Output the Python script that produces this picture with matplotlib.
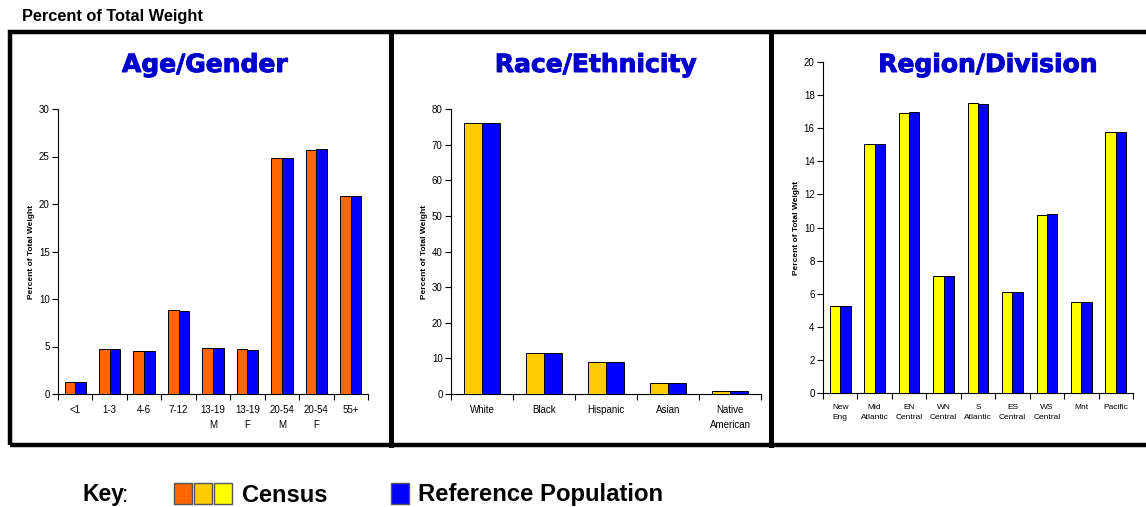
import matplotlib.pyplot as plt
import matplotlib.patheffects as pe
from matplotlib.patches import Rectangle
from matplotlib.lines import Line2D
import numpy as np

plt.rcParams['font.family'] = ['Liberation Sans', 'DejaVu Sans']

W, H = 1146, 507

age_labels = ['<1', '1-3', '4-6', '7-12', '13-19\nM', '13-19\nF', '20-54\nM', '20-54\nF', '55+']
age_census = [1.3, 4.7, 4.5, 8.83, 4.85, 4.7, 24.8, 25.7, 20.85]
age_ref = [1.3, 4.7, 4.5, 8.73, 4.85, 4.6, 24.8, 25.8, 20.85]

race_labels = ['White', 'Black', 'Hispanic', 'Asian', 'Native\nAmerican']
race_census = [76.0, 11.6, 8.9, 3.0, 0.75]
race_ref = [76.0, 11.6, 8.9, 3.0, 0.75]

region_labels = ['New\nEng', 'Mid\nAtlantic', 'EN\nCentral', 'WN\nCentral', 'S\nAtlantic',
                 'ES\nCentral', 'WS\nCentral', 'Mnt', 'Pacific']
region_census = [5.28, 15.05, 16.92, 7.05, 17.5, 6.08, 10.76, 5.52, 15.77]
region_ref = [5.28, 15.05, 16.98, 7.05, 17.44, 6.08, 10.84, 5.52, 15.77]

ORANGE = '#FF6600'
GOLD = '#FFCC00'
YELLOW = '#FFFF00'
BLUE = '#0000FF'
TITLE_BLUE = '#0000CC'

fig = plt.figure(figsize=(W / 100, H / 100), dpi=100)


def px_axes(left, right, top, bottom):
    return fig.add_axes([left / W, (H - bottom) / H, (right - left) / W, (bottom - top) / H])


def panel(box, labels, census, ref, color, ymax, ystep, title, title_xy, xfs, bw):
    ax = px_axes(*box)
    n = len(labels)
    x = np.arange(n) + 0.5
    ax.bar(x - bw / 2, census, bw, color=color, edgecolor='black', linewidth=0.7, zorder=3)
    ax.bar(x + bw / 2, ref, bw, color=BLUE, edgecolor='black', linewidth=0.7, zorder=3)
    ax.set_xlim(0, n)
    ax.set_ylim(0, ymax)
    ax.set_yticks(np.arange(0, ymax + 0.1, ystep))
    ax.tick_params(axis='y', direction='out', length=4, width=0.8, labelsize=7, pad=2)
    ax.set_xticks(x)
    ax.set_xticklabels(labels, fontsize=xfs, linespacing=1.6, va='top')
    ax.set_xticks(np.arange(n + 1), minor=True)
    ax.tick_params(axis='x', which='major', length=0, pad=8)
    ax.tick_params(axis='x', which='minor', direction='out', length=4, width=0.8)
    for s in ['top', 'right']:
        ax.spines[s].set_visible(False)
    for s in ['left', 'bottom']:
        ax.spines[s].set_linewidth(0.8)
    ax.set_ylabel('Percent of Total Weight', fontsize=6, fontweight='bold', labelpad=3)
    fig.text(title_xy[0] / W, 1 - title_xy[1] / H, title, ha='center', va='center',
             fontsize=18, fontweight='bold', color=TITLE_BLUE, family='DejaVu Sans',
             path_effects=[pe.withStroke(linewidth=0.7, foreground=TITLE_BLUE)])
    return ax


panel((58, 368, 109, 394), age_labels, age_census, age_ref, ORANGE, 30, 5,
      'Age/Gender', (205, 65), 7, 0.31)
panel((451, 761, 109, 394), race_labels, race_census, race_ref, GOLD, 80, 10,
      'Race/Ethnicity', (596, 65), 7, 0.29)
panel((823, 1133, 62, 393), region_labels, region_census, region_ref, YELLOW, 20, 2,
      'Region/Division', (988, 65), 6, 0.30)

# outer frame and dividers
fig.add_artist(Rectangle((9.5 / W, 1 - 445 / H), (1150 - 9.5) / W, (445 - 32) / H,
                         transform=fig.transFigure, fill=False, edgecolor='black', linewidth=3.2))
for xd in (390.5, 770.5):
    fig.add_artist(Line2D([xd / W, xd / W], [1 - 445 / H, 1 - 32 / H],
                          transform=fig.transFigure, color='black', linewidth=3.6))

fig.text(22 / W, 1 - 17 / H, 'Percent of Total Weight', ha='left', va='center',
         fontsize=11.8, fontweight='bold')

# key
fig.text(82 / W, 1 - 495 / H, 'Key', ha='left', va='center', fontsize=16.5, fontweight='bold')
fig.text(122 / W, 1 - 495 / H, ':', ha='left', va='center', fontsize=16.5)
for x0, c in [(174, ORANGE), (194, GOLD), (214, YELLOW), (391, BLUE)]:
    fig.add_artist(Rectangle((x0 / W, 1 - 504 / H), 18 / W, 21 / H, transform=fig.transFigure,
                             facecolor=c, edgecolor='#555555', linewidth=1.0))
fig.text(242 / W, 1 - 495 / H, 'Census', ha='left', va='center', fontsize=17, fontweight='bold')
fig.text(418 / W, 1 - 495 / H, 'Reference Population', ha='left', va='center',
         fontsize=17.2, fontweight='bold')

fig.savefig('out.png', dpi=100, facecolor='white')
